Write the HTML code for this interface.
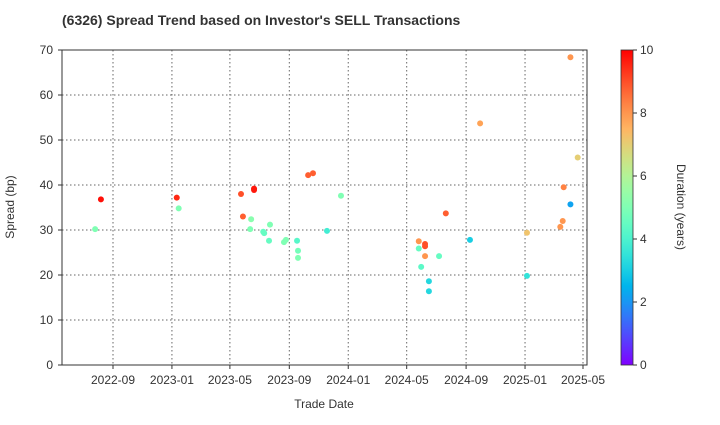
<!DOCTYPE html>
<html><head><meta charset="utf-8"><style>
body{margin:0;background:#fff;font-family:"Liberation Sans",Arial,sans-serif;}
svg text{font-family:"Liberation Sans",Arial,sans-serif;}
</style></head><body>
<svg id="c" width="720" height="420" xmlns="http://www.w3.org/2000/svg">
<defs><linearGradient id="cb" x1="0" y1="1" x2="0" y2="0"></linearGradient></defs>
<text x="62" y="25" font-size="14" font-weight="bold" fill="#333">(6326)   Spread Trend based on Investor's SELL Transactions</text>
<g id="grid"></g>
<g id="pts"></g>
<rect x="62" y="50" width="525" height="315" fill="none" stroke="#333" stroke-width="1"/>
<text x="14" y="207" font-size="12" fill="#333" text-anchor="middle" transform="rotate(-90 14 207)">Spread (bp)</text>
<text x="324" y="408" font-size="12" fill="#333" text-anchor="middle">Trade Date</text>
<rect x="621" y="50" width="12" height="315" fill="url(#cb)"/>
<rect x="621" y="50" width="12" height="315" fill="none" stroke="#333" stroke-width="0.8"/>
<text x="677" y="207" font-size="12" fill="#333" text-anchor="middle" transform="rotate(90 677 207)">Duration (years)</text>
</svg>
<script>
const dates=["2022-07-26","2022-08-07","2023-01-11","2023-01-15","2023-05-24","2023-05-28","2023-06-12","2023-06-14","2023-06-20","2023-06-20","2023-07-09","2023-07-11","2023-07-21","2023-07-23","2023-08-21","2023-08-25","2023-09-17","2023-09-19","2023-09-19","2023-10-10","2023-10-20","2023-11-18","2023-12-17","2024-05-26","2024-06-08","2024-06-08","2024-05-26","2024-06-08","2024-07-07","2024-05-31","2024-06-16","2024-06-16","2024-07-21","2024-09-09","2024-09-30","2025-01-05","2025-01-05","2025-03-15","2025-03-20","2025-03-22","2025-04-05","2025-04-05","2025-04-20"];
const spreads=[30.2,36.8,37.2,34.8,38.0,33.0,30.2,32.4,39.2,38.9,29.6,29.3,27.6,31.2,27.3,27.8,27.6,25.4,23.8,42.2,42.6,29.8,37.6,27.5,26.9,26.4,25.9,24.2,24.2,21.8,18.6,16.4,33.7,27.8,53.7,29.4,19.8,30.7,32.0,39.5,35.7,68.4,46.1];
const durations=[5,9.8,9.5,5,9,8.8,5,5.2,9.7,9.7,4.5,4.5,4.5,5,5,5,4.2,4.8,5,8.8,8.8,3.8,5,8,9,9,4.5,8,4.5,4.3,3.2,3.2,8.8,3,7.8,7.2,3.5,8,8,8.3,2.2,8,7];
const yTicks=[0,10,20,30,40,50,60,70];
const xTicks=["2022-09","2023-01","2023-05","2023-09","2024-01","2024-05","2024-09","2025-01","2025-05"];
const cTicks=[0,2,4,6,8,10];
const NS="http://www.w3.org/2000/svg";
const base=Date.UTC(2022,8,1),DAY=86400000;
function dayOf(s){const p=s.split("-");return (Date.UTC(+p[0],+p[1]-1,p[2]?+p[2]:1)-base)/DAY;}
function xS(s){return 113+dayOf(s)*(470/973);}
function yS(v){return 365-v*4.5;}
function cS(v){return 365-v*31.5;}
function rainbow(t){t=Math.max(0,Math.min(1,t));const r=Math.min(1,Math.abs(2*t-0.5)),g=Math.sin(Math.PI*t),b=Math.cos(Math.PI*t/2);return `rgb(${Math.round(r*255)},${Math.round(g*255)},${Math.round(b*255)})`;}
function mk(tag,at,par){const e=document.createElementNS(NS,tag);for(const k in at)e.setAttribute(k,at[k]);par.appendChild(e);return e;}
const svg=document.getElementById("c"),grid=document.getElementById("grid"),pts=document.getElementById("pts");
yTicks.forEach(v=>{const y=yS(v);
const l=mk("line",{x1:62,x2:587,y1:y,y2:y,stroke:"#666","stroke-dasharray":"1.5,2.5","stroke-width":1},grid);


const t=mk("text",{x:53,y:y+4,"font-size":12,fill:"#333","text-anchor":"end"},svg);t.textContent=v;


mk("line",{x1:58,x2:62,y1:y,y2:y,stroke:"#333"},svg);});
xTicks.forEach(s=>{const x=xS(s);
const l=mk("line",{x1:x,x2:x,y1:50,y2:365,stroke:"#666","stroke-dasharray":"1.5,2.5","stroke-width":1},grid);


mk("line",{x1:x,x2:x,y1:365,y2:369,stroke:"#333"},svg);
const t=mk("text",{x:x,y:384,"font-size":12,fill:"#333","text-anchor":"middle"},svg);t.textContent=s;

});
const g=document.getElementById("cb");
for(let i=0;i<=20;i++){mk("stop",{offset:(i/20),"stop-color":rainbow(i/20)},g);}
cTicks.forEach(v=>{const y=cS(v);mk("line",{x1:633,x2:637,y1:y,y2:y,stroke:"#333"},svg);
const t=mk("text",{x:640,y:y+4,"font-size":12,fill:"#333"},svg);t.textContent=v;

});
dates.forEach((d,i)=>{const c=mk("circle",{cx:xS(d),cy:yS(spreads[i]),r:3,fill:rainbow(durations[i]/10)},pts);

});
</script>
</body></html>
